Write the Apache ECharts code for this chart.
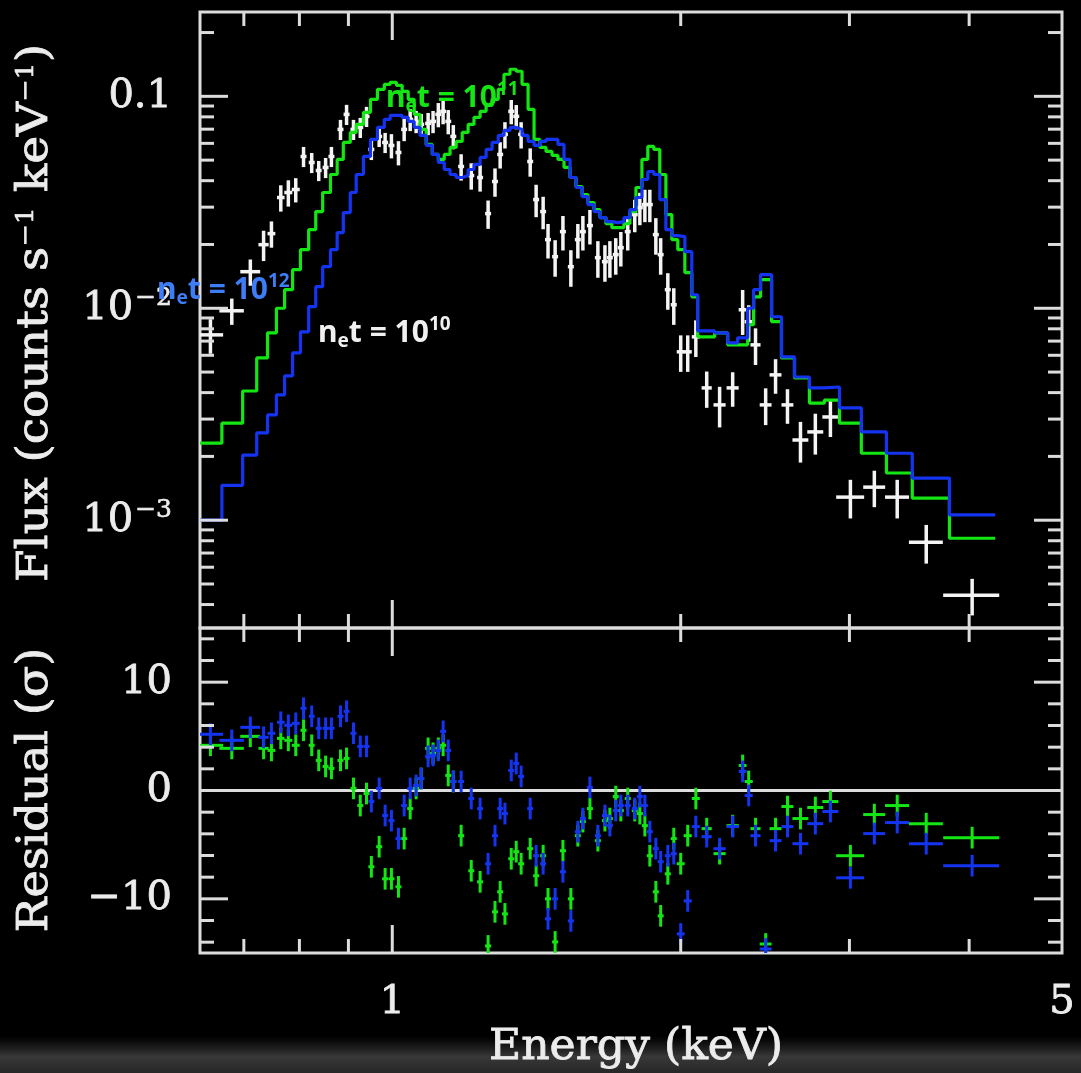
<!DOCTYPE html>
<html>
<head>
<meta charset="utf-8">
<script src="https://cdn.jsdelivr.net/npm/echarts@6/dist/echarts.min.js"></script>
<style>
html, body { margin: 0; padding: 0; background: #000; }
#chart { width: 1081px; height: 1073px; }
</style>
</head>
<body>
<div id="chart"></div>
<script>
// Observed spectrum: bin centre energy (keV), bin half-width (keV), flux and 1-sigma error
const energy = [0.646, 0.680, 0.711, 0.734, 0.748, 0.765, 0.779, 0.793, 0.808, 0.824,
  0.838, 0.852, 0.864, 0.883, 0.896, 0.911, 0.926, 0.940, 0.951, 0.969,
  0.983, 0.998, 1.015, 1.029, 1.044, 1.059, 1.072, 1.090, 1.103, 1.117,
  1.130, 1.144, 1.158, 1.180, 1.209, 1.235, 1.259, 1.280, 1.296, 1.311,
  1.331, 1.347, 1.363, 1.393, 1.413, 1.437, 1.454, 1.479, 1.507, 1.536,
  1.562, 1.581, 1.608, 1.639, 1.667, 1.687, 1.711, 1.732, 1.761, 1.791,
  1.813, 1.835, 1.857, 1.884, 1.906, 1.939, 1.967, 2.000, 2.034, 2.074,
  2.129, 2.196, 2.266, 2.321, 2.355, 2.394, 2.453, 2.512, 2.585, 2.667,
  2.764, 2.866, 3.007, 3.185, 3.365, 3.608, 4.029];
const energyHalfWidth = [0.020, 0.020, 0.017, 0.009, 0.007, 0.007, 0.0075, 0.0076, 0.0058, 0.0059,
  0.0060, 0.0061, 0.0062, 0.0064, 0.0064, 0.0066, 0.0067, 0.0068, 0.0068, 0.0070,
  0.0071, 0.0072, 0.0073, 0.0074, 0.0075, 0.0076, 0.0077, 0.0078, 0.0079, 0.0080,
  0.0081, 0.0082, 0.0083, 0.0085, 0.0087, 0.0089, 0.0091, 0.0092, 0.0093, 0.0094,
  0.0096, 0.0097, 0.0098, 0.0100, 0.0102, 0.0103, 0.0105, 0.0106, 0.0109, 0.0111,
  0.0112, 0.0114, 0.0116, 0.0118, 0.0120, 0.0121, 0.0123, 0.0125, 0.0127, 0.0129,
  0.0131, 0.0132, 0.0134, 0.0136, 0.0137, 0.0140, 0.0142, 0.019, 0.020, 0.020,
  0.026, 0.032, 0.033, 0.022, 0.023, 0.029, 0.035, 0.036, 0.037, 0.051,
  0.053, 0.055, 0.101, 0.084, 0.097, 0.147, 0.271];
const flux = [0.00749, 0.00973, 0.01488, 0.01996, 0.0225, 0.03331, 0.03517, 0.03634, 0.05203, 0.04874,
  0.04468, 0.04617, 0.05203, 0.06982, 0.08221, 0.06982, 0.07135, 0.08043, 0.05616, 0.0647,
  0.0606, 0.05864, 0.05434, 0.06982, 0.07786, 0.07617, 0.07373, 0.07454, 0.07617, 0.08221,
  0.08494, 0.07617, 0.0647, 0.04667, 0.0423, 0.0414, 0.02797, 0.03964, 0.05318, 0.06612,
  0.08494, 0.08043, 0.06612, 0.04928, 0.03258, 0.02859, 0.02108, 0.01752, 0.02299, 0.01571,
  0.02108, 0.02299, 0.02455, 0.01733, 0.01659, 0.01733, 0.01791, 0.01932, 0.02299, 0.02767,
  0.02986, 0.03086, 0.03086, 0.02226, 0.01791, 0.01224, 0.01039, 0.00623, 0.00623, 0.00733,
  0.00421, 0.0035, 0.00421, 0.00984, 0.00864, 0.00672, 0.0035, 0.00485, 0.0035, 0.00239,
  0.00261, 0.00307, 0.001285, 0.001432, 0.001285, 0.000787, 0.000442];
const fluxErr = [0.00139, 0.00138, 0.00211, 0.00326, 0.00319, 0.00473, 0.00499, 0.00476, 0.00567, 0.00531,
  0.00487, 0.00503, 0.00567, 0.00761, 0.00896, 0.00761, 0.00778, 0.00877, 0.00612, 0.00705,
  0.00661, 0.00768, 0.00712, 0.00838, 0.00934, 0.00914, 0.00885, 0.00894, 0.00914, 0.01077,
  0.01113, 0.00998, 0.00848, 0.00663, 0.00601, 0.00588, 0.00427, 0.00605, 0.00755, 0.00939,
  0.01113, 0.01054, 0.00939, 0.00752, 0.00568, 0.00499, 0.00391, 0.00343, 0.00426, 0.00308,
  0.00391, 0.00426, 0.00455, 0.0034, 0.00325, 0.0034, 0.00351, 0.00358, 0.00426, 0.00483,
  0.00521, 0.00538, 0.00538, 0.00436, 0.00351, 0.0024, 0.00204, 0.00122, 0.00122, 0.00144,
  0.00082, 0.00076, 0.00078, 0.00236, 0.00169, 0.00132, 0.00069, 0.0009, 0.00065, 0.00052,
  0.00057, 0.0006, 0.000266, 0.00028, 0.000266, 0.000163, 0.0000867];

// Residuals (sigma) against the n_e t = 1e11 and 1e12 models
const residual11 = [4.17, 3.89, 5.0, 3.89, 3.70, 4.81, 4.63, 4.17, 5.56, 4.17,
  2.78, 2.22, 2.04, 2.78, 2.96, 0.19, -1.39, -0.28, -7.04, -5.19,
  -8.15, -8.15, -8.89, -4.44, -1.67, 0.19, 1.11, 3.89, 3.43, 3.89,
  4.17, 1.39, 0.83, -4.17, -7.41, -8.43, -14.35, -11.2, -9.35, -11.39,
  -6.30, -5.65, -6.76, -5.37, -7.87, -6.02, -10.0, -13.98, -5.56, -10.0,
  -4.17, -2.87, -1.67, -4.63, -2.78, -2.59, -0.56, -1.85, -0.74, -1.85,
  -2.13, -3.24, -6.02, -9.35, -11.57, -7.69, -4.44, -6.76, -4.17, -0.74,
  -3.52, -5.83, -3.24, 2.31, 0.83, -3.52, -14.17, -3.52, -1.48, -2.59,
  -1.57, -1.02, -6.02, -2.22, -1.39, -3.06, -4.35];
const residual12 = [5.19, 4.63, 5.83, 4.91, 5.28, 6.30, 6.02, 6.20, 7.59, 6.85,
  5.74, 5.74, 5.74, 6.85, 7.31, 5.28, 4.07, 4.07, -1.02, 0.19,
  -2.31, -2.78, -4.44, -1.39, 0.19, 0.46, 1.11, 3.15, 3.24, 3.70,
  5.46, 3.70, 0.83, 0.83, -0.74, -1.67, -6.76, -4.17, -1.67, -2.13,
  1.85, 2.5, 1.30, -1.67, -6.02, -6.76, -11.85, -10.0, -7.5, -12.04,
  -3.80, -2.59, 0.28, -4.17, -2.31, -3.24, -1.85, -1.39, -1.39, -1.67,
  -0.56, -1.39, -3.80, -5.37, -6.57, -6.02, -5.83, -13.24, -10.19, -3.33,
  -4.26, -5.37, -3.33, 1.76, -0.46, -4.17, -14.63, -4.63, -3.33, -4.91,
  -3.06, -1.94, -8.06, -3.98, -2.96, -4.91, -6.94];

// Model histograms: bin edges (keV) and predicted flux per bin
const modelEdges = [0.63, 0.664, 0.698, 0.722, 0.741, 0.757, 0.772, 0.787, 0.802, 0.818,
  0.832, 0.846, 0.862, 0.876, 0.889, 0.904, 0.917, 0.933, 0.949, 0.965,
  0.981, 0.995, 1.010, 1.024, 1.039, 1.054, 1.069, 1.085, 1.101, 1.117,
  1.133, 1.149, 1.166, 1.183, 1.200, 1.217, 1.235, 1.253, 1.271, 1.290,
  1.308, 1.327, 1.347, 1.366, 1.386, 1.406, 1.426, 1.447, 1.468, 1.489,
  1.511, 1.533, 1.555, 1.578, 1.600, 1.624, 1.647, 1.671, 1.695, 1.720,
  1.745, 1.770, 1.796, 1.822, 1.848, 1.875, 1.902, 1.930, 1.958, 1.986,
  2.020, 2.054, 2.083, 2.170, 2.239, 2.293, 2.349, 2.383, 2.423, 2.488,
  2.548, 2.629, 2.725, 2.825, 2.929, 3.087, 3.279, 3.489, 3.815, 4.258];
const model11 = [0.00231, 0.00287, 0.00407, 0.00583, 0.00766, 0.0100, 0.01224, 0.01521, 0.01891, 0.0235,
  0.02859, 0.03517, 0.04277, 0.05037, 0.0606, 0.06757, 0.07373, 0.08401, 0.09678, 0.1079,
  0.1139, 0.1165, 0.1127, 0.1056, 0.09678, 0.08221, 0.06982, 0.05929, 0.05318, 0.05037,
  0.05318, 0.0574, 0.06126, 0.06757, 0.07373, 0.07957, 0.08494, 0.09066, 0.09678, 0.1079,
  0.1271, 0.1342, 0.1313, 0.1139, 0.08678, 0.06261, 0.0574, 0.05495, 0.0526, 0.05037,
  0.04617, 0.0414, 0.03755, 0.03441, 0.03154, 0.02922, 0.02679, 0.02509, 0.02402, 0.02402,
  0.02509, 0.02859, 0.03714, 0.05037, 0.05801, 0.05616, 0.04277, 0.02767, 0.02108, 0.01891,
  0.01472, 0.01133, 0.00733, 0.00766, 0.00672, 0.00672, 0.00836, 0.01133, 0.01364, 0.00864,
  0.00583, 0.00469, 0.00357, 0.00369, 0.00287, 0.00207, 0.00167, 0.00127, 0.000822];
const model12 = [0.0010, 0.00146, 0.00203, 0.00258, 0.00314, 0.0039, 0.0048, 0.00616, 0.00774, 0.01017,
  0.01264, 0.01571, 0.01891, 0.02275, 0.02828, 0.03517, 0.04277, 0.05203, 0.06261, 0.07135,
  0.07786, 0.08133, 0.08133, 0.07957, 0.07617, 0.07135, 0.0654, 0.05864, 0.05318, 0.04874,
  0.04517, 0.04277, 0.0414, 0.0423, 0.04517, 0.0477, 0.05147, 0.05616, 0.0606, 0.0654,
  0.06904, 0.07135, 0.06982, 0.0654, 0.06126, 0.05864, 0.06126, 0.06261, 0.06261, 0.05929,
  0.05037, 0.0414, 0.03714, 0.03367, 0.03086, 0.02859, 0.02679, 0.02564, 0.02537, 0.02564,
  0.02679, 0.02922, 0.03331, 0.04052, 0.04419, 0.04277, 0.03258, 0.0235, 0.02202, 0.02178,
  0.0185, 0.01158, 0.00783, 0.00766, 0.00687, 0.00725, 0.0100, 0.01224, 0.0144, 0.00912,
  0.0059, 0.00474, 0.00421, 0.00425, 0.00339, 0.00261, 0.00207, 0.00158, 0.00106];

// Axis ticks
const energyMajorTicks = [1];
const energyMinorTicks = [0.7, 0.8, 0.9, 2, 3, 4];
const energyTickLabels = ['1', '5'];
const fluxMajorTicks = [0.001, 0.01, 0.1];
const fluxMinorTicks = [0.0004, 0.0005, 0.0006, 0.0007, 0.0008, 0.0009,
  0.002, 0.003, 0.004, 0.005, 0.006, 0.007, 0.008, 0.009,
  0.02, 0.03, 0.04, 0.05, 0.06, 0.07, 0.08, 0.09, 0.2];
const residualMajorTicks = [-10, 0, 10];
const residualMinorTicks = [-14, -12, -8, -6, -4, -2, 2, 4, 6, 8, 12, 14];

const E_MIN = 0.63, E_MAX = 5;
const F_MIN = 3.1e-4, F_MAX = 0.25;
const R_MIN = -15, R_MAX = 15;

const frameColor = '#dcdcdc';
const textColor = '#ececec';
const dataColor = '#f4f4f4';
const green = '#14e614';
const blue = '#1434f2';
const MAJOR = 28, MINOR = 14;

function stepPoints(edges, values) {
  const pts = [];
  values.forEach((v, i) => {
    pts.push([edges[i], v]);
    pts.push([edges[i + 1], v]);
  });
  return pts;
}

function rectOf(params) {
  const cs = params.coordSys;
  return { x: cs.x, y: cs.y, width: cs.width, height: cs.height };
}

// Error-bar crosses: [energy, halfWidth, value, error]
function crossSeries(gridIdx, rows, color, z, floor, width) {
  return {
    type: 'custom',
    xAxisIndex: gridIdx, yAxisIndex: gridIdx,
    z: z, silent: true,
    data: rows,
    encode: { x: 0, y: 2 },
    renderItem(params, api) {
      const e = api.value(0), de = api.value(1), v = api.value(2), dv = api.value(3);
      const lo = floor != null ? Math.max(v - dv, floor) : v - dv;
      const a = api.coord([e - de, v]), b = api.coord([e + de, v]);
      const c = api.coord([e, v + dv]), d = api.coord([e, lo]);
      const style = { stroke: color, lineWidth: width };
      return {
        type: 'group',
        clipPath: { type: 'rect', shape: rectOf(params) },
        children: [
          { type: 'line', shape: { x1: a[0], y1: a[1], x2: b[0], y2: b[1] }, style },
          { type: 'line', shape: { x1: c[0], y1: c[1], x2: d[0], y2: d[1] }, style }
        ]
      };
    }
  };
}

// Inward ticks on both horizontal edges of a panel
function xTickSeries(gridIdx, refY) {
  const rows = energyMajorTicks.map(v => [v, refY, MAJOR])
    .concat(energyMinorTicks.map(v => [v, refY, MINOR]));
  return {
    type: 'custom', xAxisIndex: gridIdx, yAxisIndex: gridIdx, z: 10, silent: true,
    data: rows, encode: { x: 0, y: 1 },
    renderItem(params, api) {
      const r = rectOf(params);
      const p = api.coord([api.value(0), api.value(1)]);
      const len = api.value(2);
      const style = { stroke: frameColor, lineWidth: 3 };
      return {
        type: 'group', children: [
          { type: 'line', shape: { x1: p[0], y1: r.y, x2: p[0], y2: r.y + len }, style },
          { type: 'line', shape: { x1: p[0], y1: r.y + r.height, x2: p[0], y2: r.y + r.height - len }, style }
        ]
      };
    }
  };
}

// Inward ticks on both vertical edges of a panel
function yTickSeries(gridIdx, major, minor) {
  const rows = major.map(v => [1, v, MAJOR]).concat(minor.map(v => [1, v, MINOR]));
  return {
    type: 'custom', xAxisIndex: gridIdx, yAxisIndex: gridIdx, z: 10, silent: true,
    data: rows, encode: { x: 0, y: 1 },
    renderItem(params, api) {
      const r = rectOf(params);
      const p = api.coord([api.value(0), api.value(1)]);
      const len = api.value(2);
      const style = { stroke: frameColor, lineWidth: 3 };
      return {
        type: 'group', children: [
          { type: 'line', shape: { x1: r.x, y1: p[1], x2: r.x + len, y2: p[1] }, style },
          { type: 'line', shape: { x1: r.x + r.width, y1: p[1], x2: r.x + r.width - len, y2: p[1] }, style }
        ]
      };
    }
  };
}

const spectrumRows = energy.map((e, i) => [e, energyHalfWidth[i], flux[i], fluxErr[i]]);
const res11Rows = energy.map((e, i) => [e, energyHalfWidth[i], residual11[i], 1]);
const res12Rows = energy.map((e, i) => [e, energyHalfWidth[i], residual12[i], 1]);

const labelFont = {
  color: textColor, fontFamily: 'DejaVu Serif', fontSize: 40,
  textBorderColor: textColor, textBorderWidth: 0.8
};
const hiddenAxisParts = { axisLine: { show: false }, axisTick: { show: false }, splitLine: { show: false } };

const annotationRich = (color) => ({
  m: { fill: color, fontSize: 30, fontFamily: 'Noto Sans', fontWeight: 'bold' },
  s: { fill: color, fontSize: 19, fontFamily: 'Noto Sans', fontWeight: 'bold', padding: [18, 0, 0, 0] },
  p: { fill: color, fontSize: 19, fontFamily: 'Noto Sans', fontWeight: 'bold', padding: [0, 0, 16, 0] }
});
const annotation = (x, y, power, color) => ({
  type: 'text', x: x, y: y, z: 50,
  style: {
    text: '{m|n}{s|e}{m|t = 10}{p|' + power + '}',
    rich: annotationRich(color),
    fill: color, align: 'left', verticalAlign: 'middle'
  }
});

const titleStyle = {
  fill: textColor, fontFamily: 'DejaVu Serif', fontSize: 42,
  stroke: textColor, lineWidth: 0.8, align: 'center', verticalAlign: 'middle'
};

const chart = echarts.init(document.getElementById('chart'), null, { renderer: 'canvas' });
chart.setOption({
  backgroundColor: '#000',
  animation: false,
  grid: [
    { left: 200, top: 12, width: 862, height: 616, show: true, borderColor: frameColor, borderWidth: 3, backgroundColor: 'transparent' },
    { left: 200, top: 628, width: 862, height: 325, show: true, borderColor: frameColor, borderWidth: 3, backgroundColor: 'transparent' }
  ],
  xAxis: [
    Object.assign({ type: 'log', gridIndex: 0, min: E_MIN, max: E_MAX, axisLabel: { show: false } }, hiddenAxisParts),
    Object.assign({
      type: 'log', gridIndex: 1, min: E_MIN, max: E_MAX,
      axisLabel: Object.assign({
        margin: 30, showMinLabel: false, showMaxLabel: true, hideOverlap: false,
        formatter: (v) => {
          const hit = energyTickLabels.find(t => Math.abs(v - Number(t)) < 1e-3);
          return hit || '';
        }
      }, labelFont)
    }, hiddenAxisParts)
  ],
  yAxis: [
    Object.assign({
      type: 'log', gridIndex: 0, min: F_MIN, max: F_MAX,
      axisLabel: Object.assign({
        margin: 28, showMinLabel: false, showMaxLabel: false,
        formatter: (v) => {
          const k = Math.log10(v), r = Math.round(k);
          if (Math.abs(k - r) > 1e-6) return '';
          if (r === -1) return '0.1';
          return '10{sup|\u2212' + (-r) + '}';
        },
        rich: { sup: { color: textColor, fontFamily: 'DejaVu Serif', fontSize: 25, textBorderColor: textColor, textBorderWidth: 0.6, padding: [0, 0, 20, 2] } }
      }, labelFont)
    }, hiddenAxisParts),
    Object.assign({
      type: 'value', gridIndex: 1, min: R_MIN, max: R_MAX, interval: 5,
      axisLabel: Object.assign({
        margin: 28,
        formatter: (v) => residualMajorTicks.includes(v) ? (v < 0 ? '\u2212' + Math.abs(v) : String(v)) : ''
      }, labelFont)
    }, hiddenAxisParts)
  ],
  graphic: [
    {
      type: 'rect', z: -10, silent: true,
      shape: { x: 0, y: 1036, width: 1081, height: 37 },
      style: {
        fill: new echarts.graphic.LinearGradient(0, 0, 0, 1, [
          { offset: 0, color: 'rgba(45,45,45,0)' },
          { offset: 0.55, color: 'rgba(62,62,62,0.9)' },
          { offset: 1, color: 'rgba(38,38,38,1)' }
        ])
      }
    },
    {
      type: 'text', x: 636, y: 1048, scaleX: 1.05, z: 40,
      style: Object.assign({ text: 'Energy (keV)' }, titleStyle)
    },
    {
      type: 'text', x: 36, y: 313, rotation: Math.PI / 2, scaleX: 1.12, z: 40,
      style: Object.assign({
        text: 'Flux (counts s{sup|\u22121} keV{sup|\u22121})',
        rich: { sup: { fill: textColor, stroke: textColor, lineWidth: 0.6, fontFamily: 'DejaVu Serif', fontSize: 24, padding: [0, 0, 18, 0] } }
      }, titleStyle)
    },
    {
      type: 'text', x: 36, y: 790, rotation: Math.PI / 2, scaleX: 1.1, z: 40,
      style: Object.assign({ text: 'Residual (\u03c3)' }, titleStyle)
    },
    annotation(386, 98, '11', green),
    annotation(157, 290, '12', '#3d7df5'),
    annotation(318, 333, '10', '#f0f0f0')
  ],
  series: [
    crossSeries(0, spectrumRows, dataColor, 2, 1e-6, 3.5),
    {
      type: 'line', xAxisIndex: 0, yAxisIndex: 0, z: 3, silent: true,
      data: stepPoints(modelEdges, model11), showSymbol: false, symbol: 'none',
      lineStyle: { color: green, width: 3.2 }, clip: true
    },
    {
      type: 'line', xAxisIndex: 0, yAxisIndex: 0, z: 4, silent: true,
      data: stepPoints(modelEdges, model12), showSymbol: false, symbol: 'none',
      lineStyle: { color: blue, width: 3.2 }, clip: true
    },
    {
      type: 'line', xAxisIndex: 1, yAxisIndex: 1, z: 2, silent: true,
      data: [[E_MIN, 0], [E_MAX, 0]], showSymbol: false, symbol: 'none',
      lineStyle: { color: frameColor, width: 3 }
    },
    crossSeries(1, res11Rows, green, 3, null, 3),
    crossSeries(1, res12Rows, blue, 4, null, 3),
    xTickSeries(0, 0.01),
    xTickSeries(1, 0),
    yTickSeries(0, fluxMajorTicks, fluxMinorTicks),
    yTickSeries(1, residualMajorTicks, residualMinorTicks)
  ]
});
</script>
</body>
</html>
